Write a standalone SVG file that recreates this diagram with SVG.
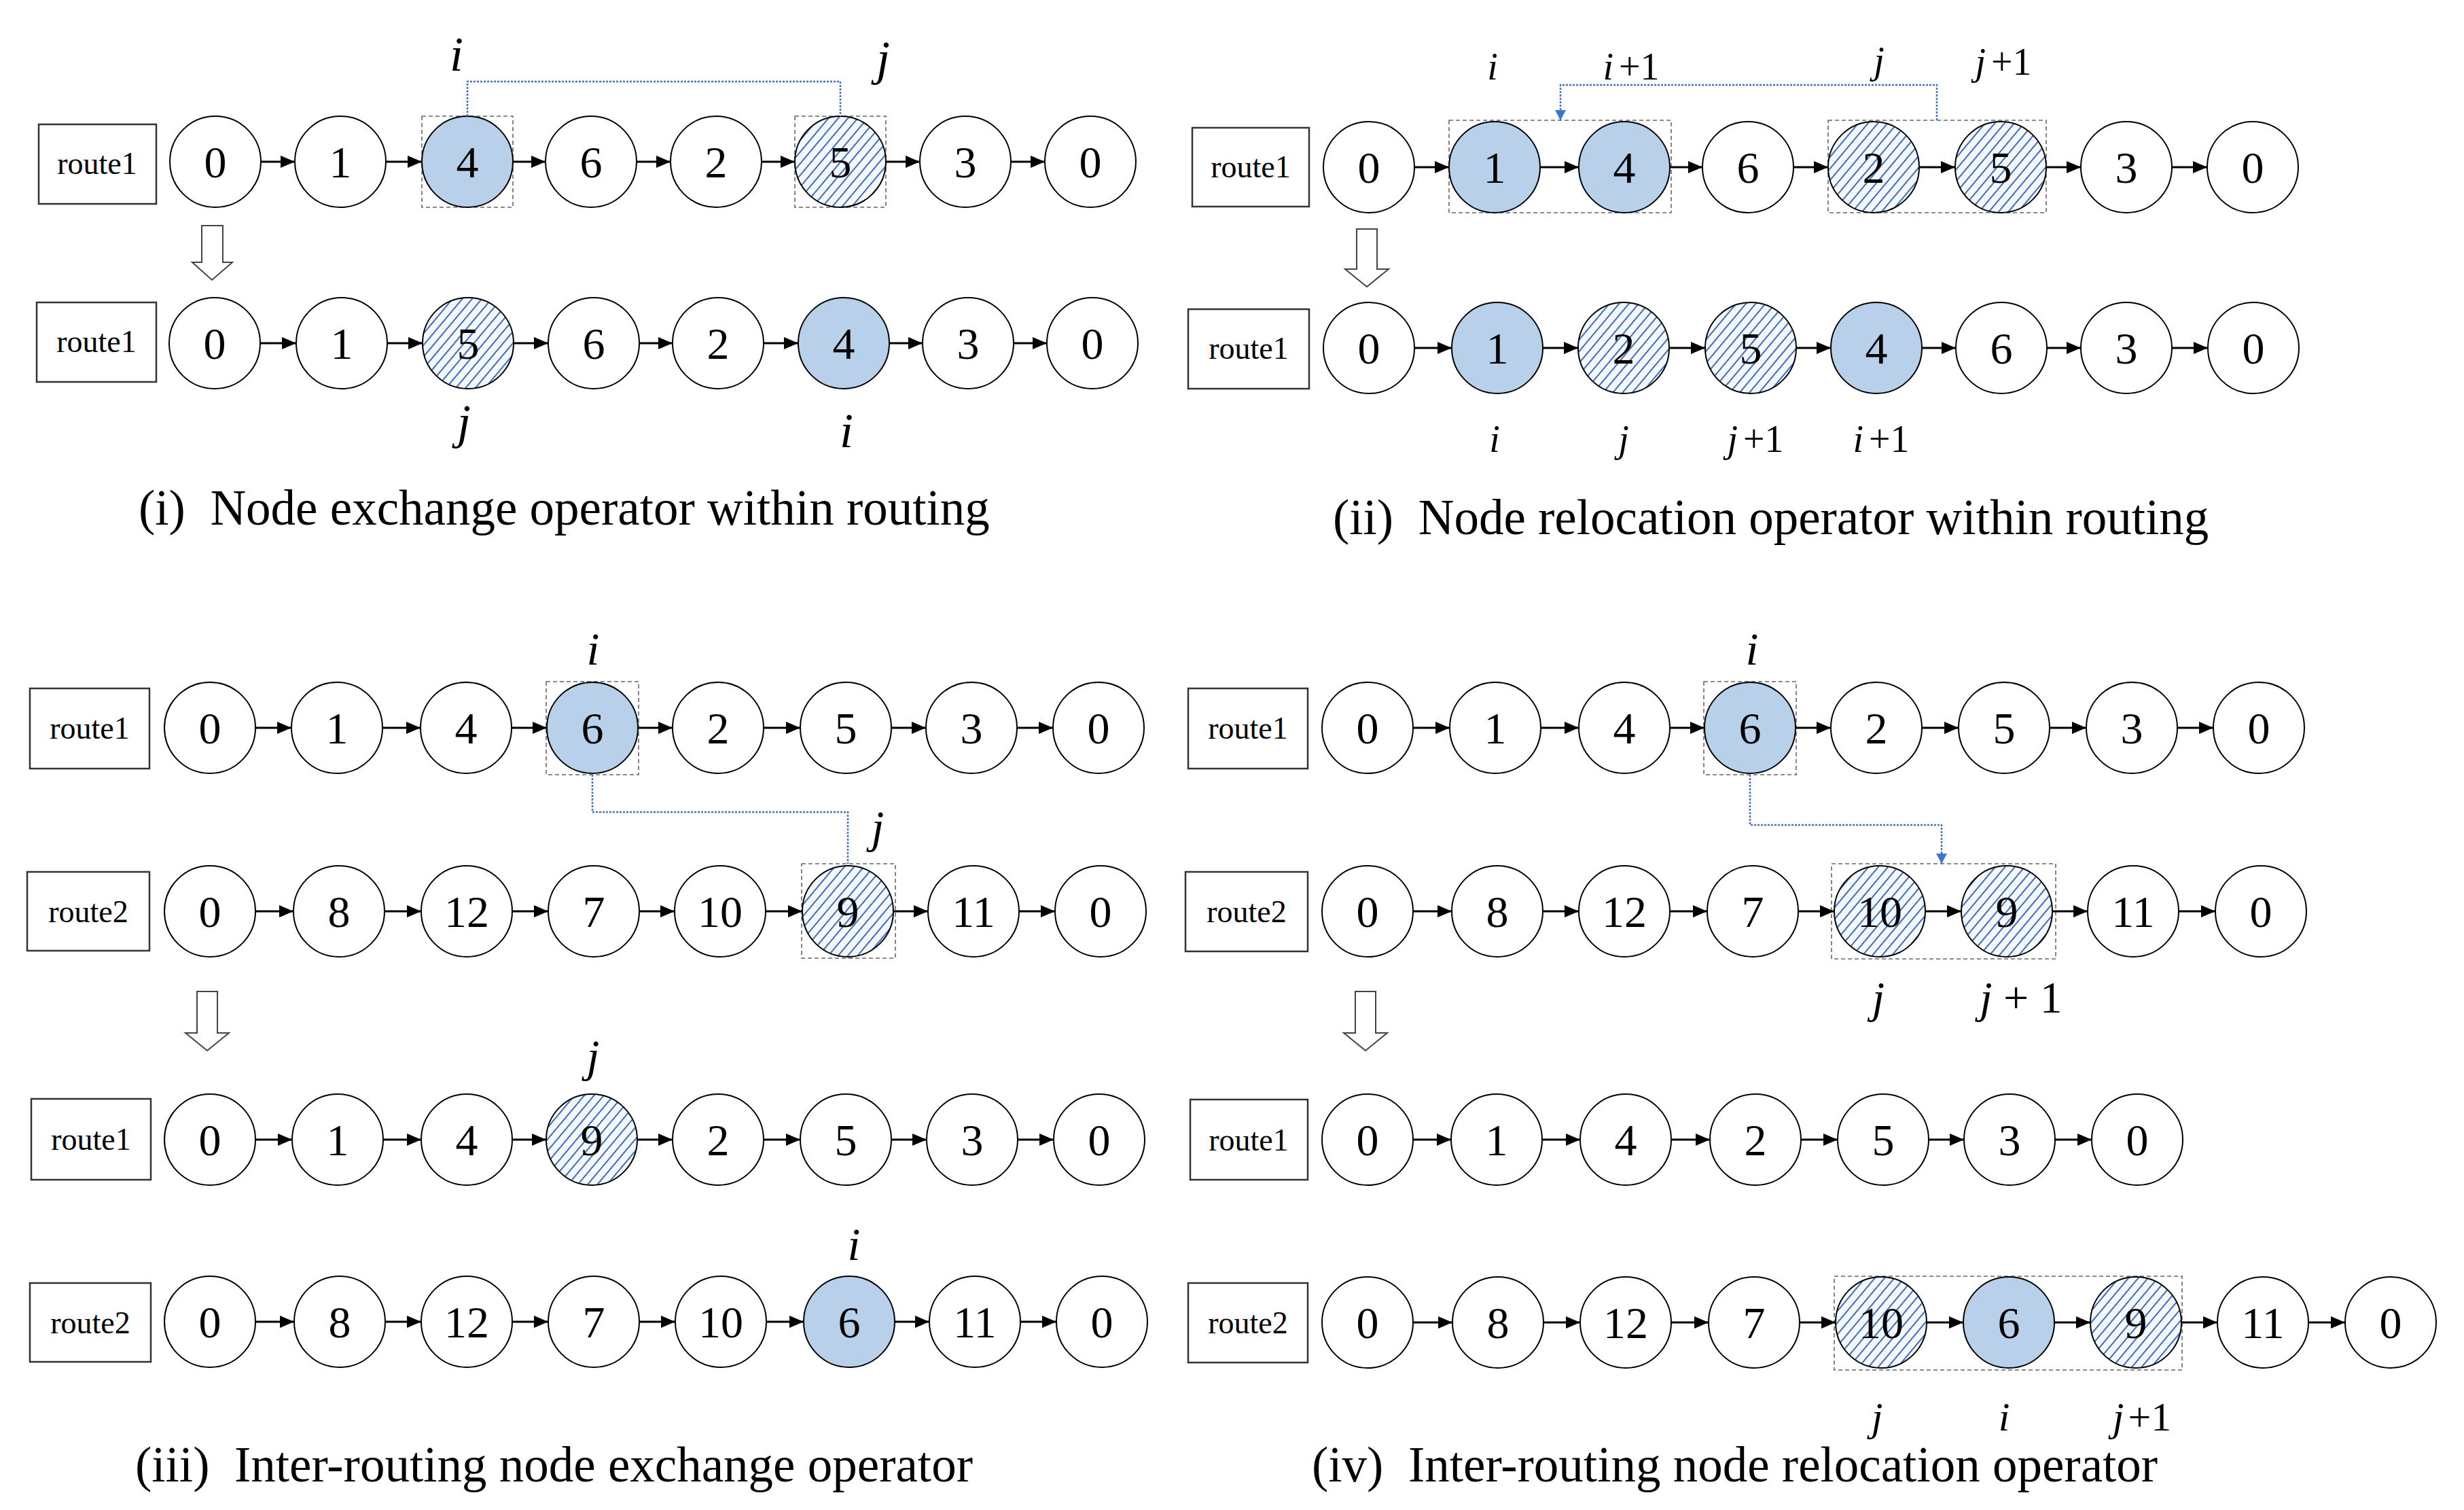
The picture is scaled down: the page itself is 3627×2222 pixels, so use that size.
<svg xmlns="http://www.w3.org/2000/svg" width="3627" height="2222" viewBox="0 0 3627 2222">
<style>
.bg{fill:#fff}
.n{fill:#fff;stroke:#000;stroke-width:2}
.b{fill:#b8d0ea;stroke:#000;stroke-width:2}
.h{fill:url(#hatch);stroke:#000;stroke-width:2}
.t{font-family:"Liberation Serif","Times New Roman",serif;font-size:66px;text-anchor:middle;fill:#000}
.rb{fill:#fff;stroke:#333;stroke-width:2.5}
.rt{font-family:"Liberation Serif","Times New Roman",serif;font-size:46px;text-anchor:middle;fill:#000}
.lbl{font-family:"Liberation Serif","Times New Roman",serif;font-style:italic;text-anchor:middle;fill:#000}
.up{font-style:normal}
.cap{font-family:"Liberation Serif","Times New Roman",serif;font-size:73px;fill:#000;white-space:pre}
.e{stroke:#000;stroke-width:3;fill:none;marker-end:url(#ah)}
.sel{fill:none;stroke:#666;stroke-width:1.6;stroke-dasharray:6 4}
.link{fill:none;stroke:#4472c4;stroke-width:2.5;stroke-dasharray:3 2}
.down{fill:#fff;stroke:#444;stroke-width:2}
</style>
<defs>
<pattern id="hatch" patternUnits="userSpaceOnUse" width="11" height="11" patternTransform="rotate(40)">
<rect width="11" height="11" fill="#f4f8fd"/>
<line x1="1" y1="0" x2="1" y2="11" stroke="#3d6dbf" stroke-width="2"/>
</pattern>
<marker id="ah" markerUnits="userSpaceOnUse" markerWidth="22" markerHeight="18" refX="21" refY="9" orient="auto">
<path d="M0,0 L21,9 L0,18 Z" fill="#000"/>
</marker>
<marker id="bh" markerUnits="userSpaceOnUse" markerWidth="16" markerHeight="24" refX="15" refY="8" orient="auto">
<path d="M0,0 L15,8 L0,16 Z" fill="#3a78d0"/>
</marker>
</defs>
<rect class="bg" x="0" y="0" width="3627" height="2222"/>

<!-- ===== Panel (i) ===== -->
<g id="p1">
<g id="p1-route-a"><rect class="rb" x="57" y="183" width="173" height="117"/><text class="rt" x="143" y="256">route1</text></g>
<g id="p1-a0"><circle class="n" cx="317" cy="238" r="67"/><text class="t" x="317" y="261">0</text></g>
<g id="p1-a1"><circle class="n" cx="501" cy="238" r="67"/><text class="t" x="501" y="261">1</text></g>
<g id="p1-a2"><rect class="sel" x="621" y="171" width="134" height="134"/><circle class="b" cx="688" cy="238" r="67"/><text class="t" x="688" y="261">4</text></g>
<g id="p1-a3"><circle class="n" cx="870" cy="238" r="67"/><text class="t" x="870" y="261">6</text></g>
<g id="p1-a4"><circle class="n" cx="1054" cy="238" r="67"/><text class="t" x="1054" y="261">2</text></g>
<g id="p1-a5"><rect class="sel" x="1170" y="171" width="134" height="134"/><circle class="h" cx="1237" cy="238" r="67"/><text class="t" x="1237" y="261">5</text></g>
<g id="p1-a6"><circle class="n" cx="1421" cy="238" r="67"/><text class="t" x="1421" y="261">3</text></g>
<g id="p1-a7"><circle class="n" cx="1605" cy="238" r="67"/><text class="t" x="1605" y="261">0</text></g>
<text class="lbl" x="672" y="104" font-size="72">i</text>
<text class="lbl" x="1300" y="110" font-size="72">j</text>

<path class="down" d="M297,332 H328 V386 H342 L312,412 L283,386 H297 Z"/>

<g id="p1-route-b"><rect class="rb" x="54" y="445" width="176" height="117"/><text class="rt" x="142" y="518">route1</text></g>
<g id="p1-b0"><circle class="n" cx="316" cy="505" r="67"/><text class="t" x="316" y="528">0</text></g>
<g id="p1-b1"><circle class="n" cx="503" cy="505" r="67"/><text class="t" x="503" y="528">1</text></g>
<g id="p1-b2"><circle class="h" cx="689" cy="505" r="67"/><text class="t" x="689" y="528">5</text></g>
<g id="p1-b3"><circle class="n" cx="874" cy="505" r="67"/><text class="t" x="874" y="528">6</text></g>
<g id="p1-b4"><circle class="n" cx="1057" cy="505" r="67"/><text class="t" x="1057" y="528">2</text></g>
<g id="p1-b5"><circle class="b" cx="1242" cy="505" r="67"/><text class="t" x="1242" y="528">4</text></g>
<g id="p1-b6"><circle class="n" cx="1425" cy="505" r="67"/><text class="t" x="1425" y="528">3</text></g>
<g id="p1-b7"><circle class="n" cx="1608" cy="505" r="67"/><text class="t" x="1608" y="528">0</text></g>
<text class="lbl" x="683" y="645" font-size="72">j</text>
<text class="lbl" x="1246" y="658" font-size="72">i</text>
<text class="cap" x="204" y="772" xml:space="preserve">(i)  Node exchange operator within routing</text>
</g>

<!-- ===== Panel (ii) ===== -->
<g id="p2">
<g id="p2-route-a"><rect class="rb" x="1755" y="188" width="172" height="116"/><text class="rt" x="1841" y="261">route1</text></g>
<rect class="sel" x="2133" y="177" width="327" height="136"/>
<rect class="sel" x="2691" y="177" width="321" height="136"/>
<g id="p2-a0"><circle class="n" cx="2015" cy="246" r="67"/><text class="t" x="2015" y="269">0</text></g>
<g id="p2-a1"><circle class="b" cx="2200" cy="246" r="67"/><text class="t" x="2200" y="269">1</text></g>
<g id="p2-a2"><circle class="b" cx="2391" cy="246" r="67"/><text class="t" x="2391" y="269">4</text></g>
<g id="p2-a3"><circle class="n" cx="2573" cy="246" r="67"/><text class="t" x="2573" y="269">6</text></g>
<g id="p2-a4"><circle class="h" cx="2758" cy="246" r="67"/><text class="t" x="2758" y="269">2</text></g>
<g id="p2-a5"><circle class="h" cx="2945" cy="246" r="67"/><text class="t" x="2945" y="269">5</text></g>
<g id="p2-a6"><circle class="n" cx="3130" cy="246" r="67"/><text class="t" x="3130" y="269">3</text></g>
<g id="p2-a7"><circle class="n" cx="3316" cy="246" r="67"/><text class="t" x="3316" y="269">0</text></g>
<text class="lbl" x="2197" y="117" font-size="56">i</text>
<text class="lbl" x="2401" y="117" font-size="56">i<tspan class="up" dx="8">+1</tspan></text>
<text class="lbl" x="2766" y="108" font-size="56">j</text>
<text class="lbl" x="2949" y="110" font-size="56">j<tspan class="up" dx="8">+1</tspan></text>

<path class="down" d="M1997,337 H2027 V396 H2044 L2012,422 L1980,396 H1997 Z"/>

<g id="p2-route-b"><rect class="rb" x="1749" y="455" width="178" height="117"/><text class="rt" x="1838" y="528">route1</text></g>
<g id="p2-b0"><circle class="n" cx="2015" cy="512" r="67"/><text class="t" x="2015" y="535">0</text></g>
<g id="p2-b1"><circle class="b" cx="2204" cy="512" r="67"/><text class="t" x="2204" y="535">1</text></g>
<g id="p2-b2"><circle class="h" cx="2390" cy="512" r="67"/><text class="t" x="2390" y="535">2</text></g>
<g id="p2-b3"><circle class="h" cx="2577" cy="512" r="67"/><text class="t" x="2577" y="535">5</text></g>
<g id="p2-b4"><circle class="b" cx="2762" cy="512" r="67"/><text class="t" x="2762" y="535">4</text></g>
<g id="p2-b5"><circle class="n" cx="2946" cy="512" r="67"/><text class="t" x="2946" y="535">6</text></g>
<g id="p2-b6"><circle class="n" cx="3130" cy="512" r="67"/><text class="t" x="3130" y="535">3</text></g>
<g id="p2-b7"><circle class="n" cx="3317" cy="512" r="67"/><text class="t" x="3317" y="535">0</text></g>
<text class="lbl" x="2200" y="665" font-size="56">i</text>
<text class="lbl" x="2390" y="665" font-size="56">j</text>
<text class="lbl" x="2584" y="665" font-size="56">j<tspan class="up" dx="8">+1</tspan></text>
<text class="lbl" x="2769" y="665" font-size="56">i<tspan class="up" dx="8">+1</tspan></text>
<text class="cap" x="1962" y="786" xml:space="preserve">(ii)  Node relocation operator within routing</text>
</g>

<!-- ===== Panel (iii) ===== -->
<g id="p3">
<g id="p3-route-a"><rect class="rb" x="44" y="1013" width="176" height="118"/><text class="rt" x="132" y="1087">route1</text></g>
<g id="p3-a0"><circle class="n" cx="309" cy="1071" r="67"/><text class="t" x="309" y="1094">0</text></g>
<g id="p3-a1"><circle class="n" cx="496" cy="1071" r="67"/><text class="t" x="496" y="1094">1</text></g>
<g id="p3-a2"><circle class="n" cx="686" cy="1071" r="67"/><text class="t" x="686" y="1094">4</text></g>
<g id="p3-a3"><rect class="sel" x="804" y="1003" width="136" height="137"/><circle class="b" cx="872" cy="1071" r="67"/><text class="t" x="872" y="1094">6</text></g>
<g id="p3-a4"><circle class="n" cx="1057" cy="1071" r="67"/><text class="t" x="1057" y="1094">2</text></g>
<g id="p3-a5"><circle class="n" cx="1245" cy="1071" r="67"/><text class="t" x="1245" y="1094">5</text></g>
<g id="p3-a6"><circle class="n" cx="1430" cy="1071" r="67"/><text class="t" x="1430" y="1094">3</text></g>
<g id="p3-a7"><circle class="n" cx="1617" cy="1071" r="67"/><text class="t" x="1617" y="1094">0</text></g>
<text class="lbl" x="873" y="978" font-size="68">i</text>

<g id="p3-route-b"><rect class="rb" x="40" y="1283" width="180" height="116"/><text class="rt" x="130" y="1357">route2</text></g>
<g id="p3-b0"><circle class="n" cx="309" cy="1341" r="67"/><text class="t" x="309" y="1364">0</text></g>
<g id="p3-b1"><circle class="n" cx="499" cy="1341" r="67"/><text class="t" x="499" y="1364">8</text></g>
<g id="p3-b2"><circle class="n" cx="687" cy="1341" r="67"/><text class="t" x="687" y="1364">12</text></g>
<g id="p3-b3"><circle class="n" cx="874" cy="1341" r="67"/><text class="t" x="874" y="1364">7</text></g>
<g id="p3-b4"><circle class="n" cx="1060" cy="1341" r="67"/><text class="t" x="1060" y="1364">10</text></g>
<g id="p3-b5"><rect class="sel" x="1180" y="1271" width="138" height="139"/><circle class="h" cx="1248" cy="1341" r="67"/><text class="t" x="1248" y="1364">9</text></g>
<g id="p3-b6"><circle class="n" cx="1433" cy="1341" r="67"/><text class="t" x="1433" y="1364">11</text></g>
<g id="p3-b7"><circle class="n" cx="1620" cy="1341" r="67"/><text class="t" x="1620" y="1364">0</text></g>
<text class="lbl" x="1292" y="1240" font-size="68">j</text>

<path class="down" d="M290,1459 H320 V1520 H337 L305,1546 L273,1520 H290 Z"/>

<g id="p3-route-c"><rect class="rb" x="46" y="1617" width="176" height="119"/><text class="rt" x="134" y="1692">route1</text></g>
<g id="p3-c0"><circle class="n" cx="309" cy="1677" r="67"/><text class="t" x="309" y="1700">0</text></g>
<g id="p3-c1"><circle class="n" cx="497" cy="1677" r="67"/><text class="t" x="497" y="1700">1</text></g>
<g id="p3-c2"><circle class="n" cx="687" cy="1677" r="67"/><text class="t" x="687" y="1700">4</text></g>
<g id="p3-c3"><circle class="h" cx="871" cy="1677" r="67"/><text class="t" x="871" y="1700">9</text></g>
<g id="p3-c4"><circle class="n" cx="1057" cy="1677" r="67"/><text class="t" x="1057" y="1700">2</text></g>
<g id="p3-c5"><circle class="n" cx="1245" cy="1677" r="67"/><text class="t" x="1245" y="1700">5</text></g>
<g id="p3-c6"><circle class="n" cx="1431" cy="1677" r="67"/><text class="t" x="1431" y="1700">3</text></g>
<g id="p3-c7"><circle class="n" cx="1618" cy="1677" r="67"/><text class="t" x="1618" y="1700">0</text></g>
<text class="lbl" x="873" y="1577" font-size="68">j</text>

<g id="p3-route-d"><rect class="rb" x="44" y="1888" width="178" height="116"/><text class="rt" x="133" y="1962">route2</text></g>
<g id="p3-d0"><circle class="n" cx="309" cy="1945" r="67"/><text class="t" x="309" y="1968">0</text></g>
<g id="p3-d1"><circle class="n" cx="500" cy="1945" r="67"/><text class="t" x="500" y="1968">8</text></g>
<g id="p3-d2"><circle class="n" cx="687" cy="1945" r="67"/><text class="t" x="687" y="1968">12</text></g>
<g id="p3-d3"><circle class="n" cx="874" cy="1945" r="67"/><text class="t" x="874" y="1968">7</text></g>
<g id="p3-d4"><circle class="n" cx="1061" cy="1945" r="67"/><text class="t" x="1061" y="1968">10</text></g>
<g id="p3-d5"><circle class="b" cx="1250" cy="1945" r="67"/><text class="t" x="1250" y="1968">6</text></g>
<g id="p3-d6"><circle class="n" cx="1435" cy="1945" r="67"/><text class="t" x="1435" y="1968">11</text></g>
<g id="p3-d7"><circle class="n" cx="1622" cy="1945" r="67"/><text class="t" x="1622" y="1968">0</text></g>
<text class="lbl" x="1257" y="1854" font-size="68">i</text>
<text class="cap" x="199" y="2180" xml:space="preserve">(iii)  Inter-routing node exchange operator</text>
</g>

<!-- ===== Panel (iv) ===== -->
<g id="p4">
<g id="p4-route-a"><rect class="rb" x="1749" y="1013" width="176" height="118"/><text class="rt" x="1837" y="1087">route1</text></g>
<g id="p4-a0"><circle class="n" cx="2013" cy="1071" r="67"/><text class="t" x="2013" y="1094">0</text></g>
<g id="p4-a1"><circle class="n" cx="2201" cy="1071" r="67"/><text class="t" x="2201" y="1094">1</text></g>
<g id="p4-a2"><circle class="n" cx="2391" cy="1071" r="67"/><text class="t" x="2391" y="1094">4</text></g>
<g id="p4-a3"><rect class="sel" x="2508" y="1003" width="136" height="137"/><circle class="b" cx="2576" cy="1071" r="67"/><text class="t" x="2576" y="1094">6</text></g>
<g id="p4-a4"><circle class="n" cx="2762" cy="1071" r="67"/><text class="t" x="2762" y="1094">2</text></g>
<g id="p4-a5"><circle class="n" cx="2950" cy="1071" r="67"/><text class="t" x="2950" y="1094">5</text></g>
<g id="p4-a6"><circle class="n" cx="3138" cy="1071" r="67"/><text class="t" x="3138" y="1094">3</text></g>
<g id="p4-a7"><circle class="n" cx="3325" cy="1071" r="67"/><text class="t" x="3325" y="1094">0</text></g>
<text class="lbl" x="2579" y="978" font-size="68">i</text>

<g id="p4-route-b"><rect class="rb" x="1745" y="1283" width="180" height="117"/><text class="rt" x="1835" y="1357">route2</text></g>
<rect class="sel" x="2696" y="1271" width="330" height="140"/>
<g id="p4-b0"><circle class="n" cx="2013" cy="1341" r="67"/><text class="t" x="2013" y="1364">0</text></g>
<g id="p4-b1"><circle class="n" cx="2204" cy="1341" r="67"/><text class="t" x="2204" y="1364">8</text></g>
<g id="p4-b2"><circle class="n" cx="2391" cy="1341" r="67"/><text class="t" x="2391" y="1364">12</text></g>
<g id="p4-b3"><circle class="n" cx="2580" cy="1341" r="67"/><text class="t" x="2580" y="1364">7</text></g>
<g id="p4-b4"><circle class="h" cx="2767" cy="1341" r="67"/><text class="t" x="2767" y="1364">10</text></g>
<g id="p4-b5"><circle class="h" cx="2954" cy="1341" r="67"/><text class="t" x="2954" y="1364">9</text></g>
<g id="p4-b6"><circle class="n" cx="3140" cy="1341" r="67"/><text class="t" x="3140" y="1364">11</text></g>
<g id="p4-b7"><circle class="n" cx="3328" cy="1341" r="67"/><text class="t" x="3328" y="1364">0</text></g>
<text class="lbl" x="2765" y="1490" font-size="66">j</text>
<text class="lbl" x="2975" y="1490" font-size="66" xml:space="preserve">j<tspan class="up"> + 1</tspan></text>

<path class="down" d="M1995,1459 H2025 V1520 H2042 L2010,1546 L1978,1520 H1995 Z"/>

<g id="p4-route-c"><rect class="rb" x="1752" y="1618" width="173" height="118"/><text class="rt" x="1838" y="1693">route1</text></g>
<g id="p4-c0"><circle class="n" cx="2013" cy="1677" r="67"/><text class="t" x="2013" y="1700">0</text></g>
<g id="p4-c1"><circle class="n" cx="2203" cy="1677" r="67"/><text class="t" x="2203" y="1700">1</text></g>
<g id="p4-c2"><circle class="n" cx="2393" cy="1677" r="67"/><text class="t" x="2393" y="1700">4</text></g>
<g id="p4-c3"><circle class="n" cx="2584" cy="1677" r="67"/><text class="t" x="2584" y="1700">2</text></g>
<g id="p4-c4"><circle class="n" cx="2772" cy="1677" r="67"/><text class="t" x="2772" y="1700">5</text></g>
<g id="p4-c5"><circle class="n" cx="2958" cy="1677" r="67"/><text class="t" x="2958" y="1700">3</text></g>
<g id="p4-c6"><circle class="n" cx="3146" cy="1677" r="67"/><text class="t" x="3146" y="1700">0</text></g>

<g id="p4-route-d"><rect class="rb" x="1749" y="1888" width="176" height="117"/><text class="rt" x="1837" y="1962">route2</text></g>
<rect class="sel" x="2700" y="1878" width="512" height="138"/>
<g id="p4-d0"><circle class="n" cx="2013" cy="1946" r="67"/><text class="t" x="2013" y="1969">0</text></g>
<g id="p4-d1"><circle class="n" cx="2205" cy="1946" r="67"/><text class="t" x="2205" y="1969">8</text></g>
<g id="p4-d2"><circle class="n" cx="2393" cy="1946" r="67"/><text class="t" x="2393" y="1969">12</text></g>
<g id="p4-d3"><circle class="n" cx="2582" cy="1946" r="67"/><text class="t" x="2582" y="1969">7</text></g>
<g id="p4-d4"><circle class="h" cx="2769" cy="1946" r="67"/><text class="t" x="2769" y="1969">10</text></g>
<g id="p4-d5"><circle class="b" cx="2957" cy="1946" r="67"/><text class="t" x="2957" y="1969">6</text></g>
<g id="p4-d6"><circle class="h" cx="3144" cy="1946" r="67"/><text class="t" x="3144" y="1969">9</text></g>
<g id="p4-d7"><circle class="n" cx="3331" cy="1946" r="67"/><text class="t" x="3331" y="1969">11</text></g>
<g id="p4-d8"><circle class="n" cx="3519" cy="1946" r="67"/><text class="t" x="3519" y="1969">0</text></g>
<text class="lbl" x="2763" y="2105" font-size="60">j</text>
<text class="lbl" x="2950" y="2105" font-size="60">i</text>
<text class="lbl" x="3153" y="2105" font-size="60">j<tspan class="up" dx="6">+1</tspan></text>
<text class="cap" x="1931" y="2180" xml:space="preserve">(iv)  Inter-routing node relocation operator</text>
</g>

<!-- ===== Connectors ===== -->
<g id="connectors">
<line class="e" x1="384" y1="238" x2="434" y2="238"/>
<line class="e" x1="568" y1="238" x2="621" y2="238"/>
<line class="e" x1="755" y1="238" x2="803" y2="238"/>
<line class="e" x1="937" y1="238" x2="987" y2="238"/>
<line class="e" x1="1121" y1="238" x2="1170" y2="238"/>
<line class="e" x1="1304" y1="238" x2="1354" y2="238"/>
<line class="e" x1="1488" y1="238" x2="1538" y2="238"/>
<line class="e" x1="383" y1="505" x2="436" y2="505"/>
<line class="e" x1="570" y1="505" x2="622" y2="505"/>
<line class="e" x1="756" y1="505" x2="807" y2="505"/>
<line class="e" x1="941" y1="505" x2="990" y2="505"/>
<line class="e" x1="1124" y1="505" x2="1175" y2="505"/>
<line class="e" x1="1309" y1="505" x2="1358" y2="505"/>
<line class="e" x1="1492" y1="505" x2="1541" y2="505"/>
<line class="e" x1="2082" y1="246" x2="2133" y2="246"/>
<line class="e" x1="2267" y1="246" x2="2324" y2="246"/>
<line class="e" x1="2458" y1="246" x2="2506" y2="246"/>
<line class="e" x1="2640" y1="246" x2="2691" y2="246"/>
<line class="e" x1="2825" y1="246" x2="2878" y2="246"/>
<line class="e" x1="3012" y1="246" x2="3063" y2="246"/>
<line class="e" x1="3197" y1="246" x2="3249" y2="246"/>
<line class="e" x1="2082" y1="512" x2="2137" y2="512"/>
<line class="e" x1="2271" y1="512" x2="2323" y2="512"/>
<line class="e" x1="2457" y1="512" x2="2510" y2="512"/>
<line class="e" x1="2644" y1="512" x2="2695" y2="512"/>
<line class="e" x1="2829" y1="512" x2="2879" y2="512"/>
<line class="e" x1="3013" y1="512" x2="3063" y2="512"/>
<line class="e" x1="3197" y1="512" x2="3250" y2="512"/>
<line class="e" x1="376" y1="1071" x2="429" y2="1071"/>
<line class="e" x1="563" y1="1071" x2="619" y2="1071"/>
<line class="e" x1="753" y1="1071" x2="805" y2="1071"/>
<line class="e" x1="939" y1="1071" x2="990" y2="1071"/>
<line class="e" x1="1124" y1="1071" x2="1178" y2="1071"/>
<line class="e" x1="1312" y1="1071" x2="1363" y2="1071"/>
<line class="e" x1="1497" y1="1071" x2="1550" y2="1071"/>
<line class="e" x1="376" y1="1341" x2="432" y2="1341"/>
<line class="e" x1="566" y1="1341" x2="620" y2="1341"/>
<line class="e" x1="754" y1="1341" x2="807" y2="1341"/>
<line class="e" x1="941" y1="1341" x2="993" y2="1341"/>
<line class="e" x1="1127" y1="1341" x2="1181" y2="1341"/>
<line class="e" x1="1315" y1="1341" x2="1366" y2="1341"/>
<line class="e" x1="1500" y1="1341" x2="1553" y2="1341"/>
<line class="e" x1="376" y1="1677" x2="430" y2="1677"/>
<line class="e" x1="564" y1="1677" x2="620" y2="1677"/>
<line class="e" x1="754" y1="1677" x2="804" y2="1677"/>
<line class="e" x1="938" y1="1677" x2="990" y2="1677"/>
<line class="e" x1="1124" y1="1677" x2="1178" y2="1677"/>
<line class="e" x1="1312" y1="1677" x2="1364" y2="1677"/>
<line class="e" x1="1498" y1="1677" x2="1551" y2="1677"/>
<line class="e" x1="376" y1="1945" x2="433" y2="1945"/>
<line class="e" x1="567" y1="1945" x2="620" y2="1945"/>
<line class="e" x1="754" y1="1945" x2="807" y2="1945"/>
<line class="e" x1="941" y1="1945" x2="994" y2="1945"/>
<line class="e" x1="1128" y1="1945" x2="1183" y2="1945"/>
<line class="e" x1="1317" y1="1945" x2="1368" y2="1945"/>
<line class="e" x1="1502" y1="1945" x2="1555" y2="1945"/>
<line class="e" x1="2080" y1="1071" x2="2134" y2="1071"/>
<line class="e" x1="2268" y1="1071" x2="2324" y2="1071"/>
<line class="e" x1="2458" y1="1071" x2="2509" y2="1071"/>
<line class="e" x1="2643" y1="1071" x2="2695" y2="1071"/>
<line class="e" x1="2829" y1="1071" x2="2883" y2="1071"/>
<line class="e" x1="3017" y1="1071" x2="3071" y2="1071"/>
<line class="e" x1="3205" y1="1071" x2="3258" y2="1071"/>
<line class="e" x1="2080" y1="1341" x2="2137" y2="1341"/>
<line class="e" x1="2271" y1="1341" x2="2324" y2="1341"/>
<line class="e" x1="2458" y1="1341" x2="2513" y2="1341"/>
<line class="e" x1="2647" y1="1341" x2="2700" y2="1341"/>
<line class="e" x1="2834" y1="1341" x2="2887" y2="1341"/>
<line class="e" x1="3021" y1="1341" x2="3073" y2="1341"/>
<line class="e" x1="3207" y1="1341" x2="3261" y2="1341"/>
<line class="e" x1="2080" y1="1677" x2="2136" y2="1677"/>
<line class="e" x1="2270" y1="1677" x2="2326" y2="1677"/>
<line class="e" x1="2460" y1="1677" x2="2517" y2="1677"/>
<line class="e" x1="2651" y1="1677" x2="2705" y2="1677"/>
<line class="e" x1="2839" y1="1677" x2="2891" y2="1677"/>
<line class="e" x1="3025" y1="1677" x2="3079" y2="1677"/>
<line class="e" x1="2080" y1="1946" x2="2138" y2="1946"/>
<line class="e" x1="2272" y1="1946" x2="2326" y2="1946"/>
<line class="e" x1="2460" y1="1946" x2="2515" y2="1946"/>
<line class="e" x1="2649" y1="1946" x2="2702" y2="1946"/>
<line class="e" x1="2836" y1="1946" x2="2890" y2="1946"/>
<line class="e" x1="3024" y1="1946" x2="3077" y2="1946"/>
<line class="e" x1="3211" y1="1946" x2="3264" y2="1946"/>
<line class="e" x1="3398" y1="1946" x2="3452" y2="1946"/>
<path class="link" d="M688,171 V120 H1237 V171"/>
<path class="link" d="M2851,177 V125 H2297 V177" marker-end="url(#bh)"/>
<path class="link" d="M872,1140 V1195 H1248 V1271"/>
<path class="link" d="M2576,1140 V1214 H2858 V1271" marker-end="url(#bh)"/>
</g>
</svg>
